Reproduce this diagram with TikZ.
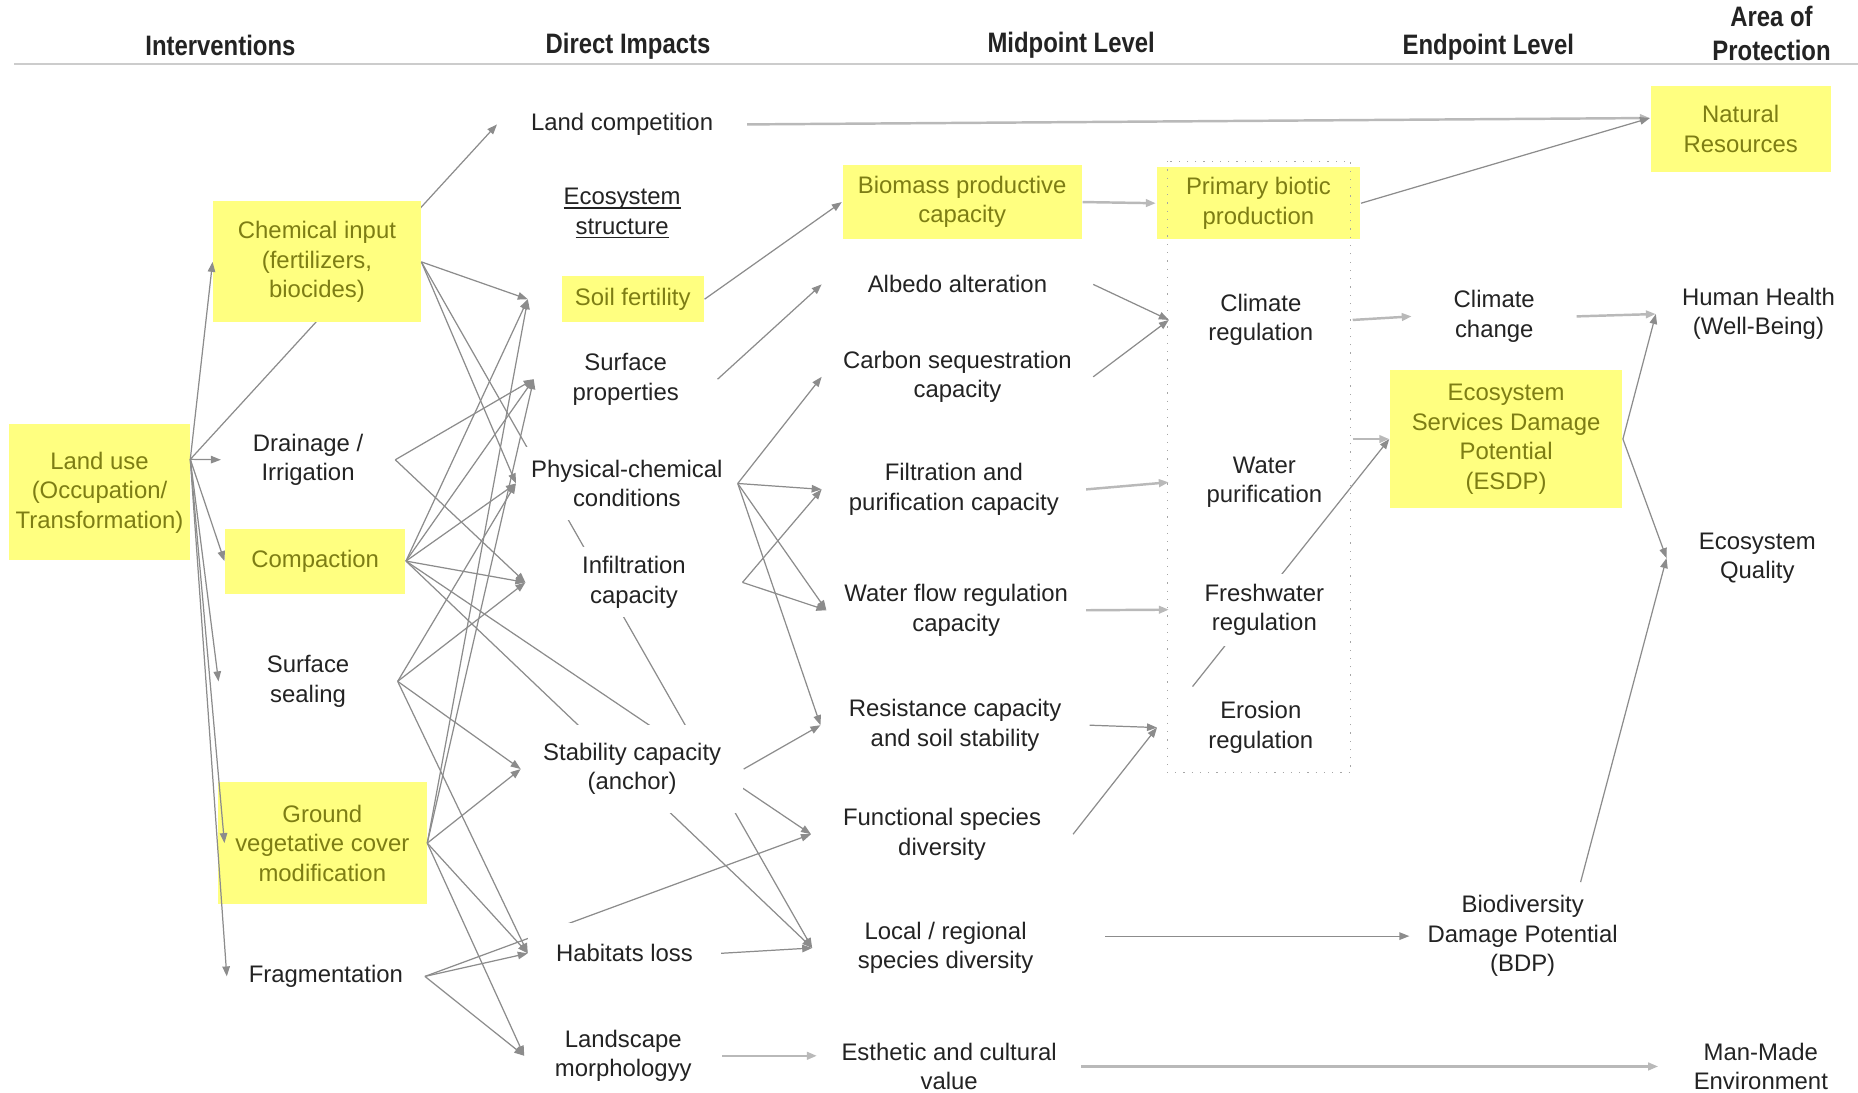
\documentclass[tikz,border=0pt]{standalone}
\usepackage{fontspec}
\setmainfont{Liberation Sans}
\newfontfamily\headfont{Liberation Sans}[FakeStretch=0.85]
\usetikzlibrary{arrows.meta, backgrounds}
\newlength{\px}
\setlength{\px}{0.1185mm}
\definecolor{hlyellow}{RGB}{255,255,128}
\definecolor{hltext}{RGB}{125,125,20}
\definecolor{txt}{RGB}{35,35,35}
\definecolor{wire}{RGB}{140,140,140}
\definecolor{lwire}{RGB}{185,185,185}
\newcommand{\undl}[1]{\leavevmode\setbox0\hbox{#1}\rlap{\rule[-1.2pt]{\wd0}{0.45pt}}\box0}

\begin{document}
\begin{tikzpicture}[x=\px, y=-\px,
  every node/.style={font=\fontsize{6.8}{8.4}\selectfont, align=center, inner sep=0pt, text=txt},
  head/.style={font=\headfont\bfseries\fontsize{8}{9.6}\selectfont},
  ybox/.style={fill=hlyellow, text=hltext},
  wbox/.style={fill=white},
  conn/.style={draw=wire, line width=0.35pt, -{Triangle[length=1mm,width=0.75mm]}},
  lconn/.style={draw=lwire, line width=0.7pt, -{Triangle[length=1mm,width=0.75mm]}},
  dotbox/.style={draw=gray!70, dotted, line width=0.35pt},
  hrule/.style={draw=gray!40, line width=0.8pt}]
\useasboundingbox (0,0) rectangle (1568,922);

% column heads
\node[head] (hdint) at (186,38) {Interventions};
\node[head] (hddir) at (530,39) {Direct Impacts};
\node[head] (hdmid) at (904,38) {Midpoint Level};
\node[head] (hdend) at (1256,40) {Endpoint Level};
\node[head] (hdaop) at (1495,28) {Area of\\Protection};
\draw[hrule] (12,54) -- (1568,54);

% interventions
\node[ybox, minimum width=152\px, minimum height=115\px] (landuse) at (84,415.5) {Land use\\(Occupation/\\Transformation)};
\node[ybox, minimum width=175\px, minimum height=102\px] (chem) at (267.5,221) {Chemical input\\(fertilizers,\\biocides)};
\node[minimum width=146\px, minimum height=30\px] (drain) at (260,388) {Drainage /\\Irrigation};
\node[ybox, minimum width=152\px, minimum height=55\px] (compact) at (266,473.5) {Compaction};
\node[minimum width=150\px] (seal) at (260,575) {Surface\\sealing};
\node[ybox, minimum width=176\px, minimum height=103\px] (veg) at (272,711.5) {Ground\\vegetative cover\\modification};
\node[minimum width=166\px] (frag) at (275,824) {Fragmentation};

% direct impacts
\node[wbox, minimum width=210\px, minimum height=30\px] (landcomp) at (525,105) {Land competition};
\node[wbox, minimum width=200\px, minimum height=70\px] (ecostr) at (525,180) {\undl{Ecosystem}\\\undl{structure}};
\node[ybox, minimum width=120\px, minimum height=39\px] (soil) at (534,252.5) {Soil fertility};
\node[wbox, minimum width=154\px, minimum height=50\px] (surf) at (528,320) {Surface\\properties};
\node[wbox, minimum width=186\px, minimum height=62\px] (phys) at (529,408) {Physical-chemical\\conditions};
\node[wbox, minimum width=182\px, minimum height=59\px] (infil) at (535,491.5) {Infiltration\\capacity};
\node[wbox, minimum width=187\px, minimum height=74\px] (stab) at (533.5,649) {Stability capacity\\(anchor)};
\node[wbox, minimum width=162\px, minimum height=51\px] (habitat) at (527,804.5) {Habitats loss};
\node[wbox, minimum width=166\px, minimum height=55\px] (landsc) at (526,891) {Landscape\\morphologyy};

% midpoint level
\node[ybox, minimum width=202\px, minimum height=63\px] (biomass) at (812,170.5) {Biomass productive\\capacity};
\node[wbox, minimum width=228\px, minimum height=30\px] (albedo) at (808,240) {Albedo alteration};
\node[wbox, minimum width=228\px, minimum height=55\px] (carbon) at (808,318) {Carbon sequestration\\capacity};
\node[wbox, minimum width=222\px, minimum height=55\px] (filter) at (805,413) {Filtration and\\purification capacity};
\node[wbox, minimum width=218\px, minimum height=55\px] (flow) at (807,515) {Water flow regulation\\capacity};
\node[wbox, minimum width=226\px, minimum height=55\px] (resist) at (806,612) {Resistance capacity\\and soil stability};
\node[wbox, minimum width=220\px, minimum height=55\px] (funct) at (795,704) {Functional species\\diversity};
\node[wbox, minimum width=224\px, minimum height=55\px] (localdiv) at (798,800) {Local / regional\\species diversity};
\node[wbox, minimum width=222\px, minimum height=50\px] (esthetic) at (801,900) {Esthetic and cultural\\value};

% ecosystem services
\node[ybox, minimum width=172\px, minimum height=61\px] (primary) at (1062,171.5) {Primary biotic\\production};
\node[wbox, minimum width=154\px, minimum height=60\px] (climreg) at (1064,270) {Climate\\regulation};
\node[minimum width=160\px, minimum height=60\px] (waterpur) at (1067,407) {Water\\purification};
\node[wbox, minimum width=160\px, minimum height=61\px] (fresh) at (1067,514.5) {Freshwater\\regulation};
\node[wbox, minimum width=174\px, minimum height=68\px] (erosion) at (1064,614) {Erosion\\regulation};
\draw[dotbox] (985,136) rectangle (1140,652);

% endpoint level
\node[wbox, minimum width=138\px, minimum height=55\px] (climchg) at (1261,267) {Climate\\change};
\node[ybox, minimum width=196\px, minimum height=117\px] (esdp) at (1271,370.5) {Ecosystem\\Services Damage\\Potential\\(ESDP)};
\node[wbox, minimum width=190\px, minimum height=90\px] (bdp) at (1285,790) {Biodiversity\\Damage Potential\\(BDP)};

% areas of protection
\node[ybox, minimum width=152\px, minimum height=73\px] (natres) at (1469,109) {Natural\\Resources};
\node[wbox, minimum width=172\px, minimum height=55\px] (human) at (1484,265) {Human Health\\(Well-Being)};
\node[wbox, minimum width=152\px, minimum height=55\px] (ecoq) at (1483,471) {Ecosystem\\Quality};
\node[wbox, minimum width=172\px, minimum height=50\px] (manmade) at (1486,900) {Man-Made\\Environment};

% links that run behind the boxes
\begin{pgfonlayer}{background}
\draw[conn] (landuse.20) -- (landcomp.west);
\draw[conn] (chem.east) -- (localdiv.west);
\draw[conn] (compact.east) -- (funct.west);
\draw[conn] (compact.east) -- (localdiv.west);
\draw[conn] (frag.east) -- (funct.west);
\draw[conn] ([xshift=30\px]erosion.north west) -- (esdp.west);
\end{pgfonlayer}

% interventions -> direct impacts
\draw[conn] (landuse.20) -- (chem.west);
\draw[conn] (landuse.20) -- (drain.west);
\draw[conn] (landuse.20) -- (compact.west);
\draw[conn] (landuse.20) -- (seal.west);
\draw[conn] (landuse.20) -- ([xshift=6\px]veg.west);
\draw[conn] (landuse.20) -- (frag.west);
\draw[conn] (chem.east) -- ([xshift=-28\px]soil.west);
\draw[conn] (chem.east) -- (phys.west);
\draw[conn] (drain.east) -- (surf.west);
\draw[conn] (drain.east) -- (infil.west);
\draw[conn] (compact.east) -- ([xshift=-28\px]soil.west);
\draw[conn] (compact.east) -- (surf.west);
\draw[conn] (compact.east) -- (phys.west);
\draw[conn] (compact.east) -- (infil.west);
\draw[conn] (seal.east) -- (phys.west);
\draw[conn] (seal.east) -- (infil.west);
\draw[conn] (seal.east) -- (stab.west);
\draw[conn] (seal.east) -- (habitat.west);
\draw[conn] (veg.east) -- ([xshift=-28\px]soil.west);
\draw[conn] (veg.east) -- (surf.west);
\draw[conn] (veg.east) -- (stab.west);
\draw[conn] (veg.east) -- (habitat.west);
\draw[conn] (veg.east) -- (landsc.west);
\draw[conn] (frag.east) -- (habitat.west);
\draw[conn] (frag.east) -- (landsc.west);

% direct impacts -> midpoints
\draw[lconn] (landcomp.east) -- (natres.173);
\draw[conn] (soil.east) -- (biomass.west);
\draw[conn] (surf.east) -- (albedo.west);
\draw[conn] (phys.east) -- (carbon.west);
\draw[conn] (phys.east) -- (filter.west);
\draw[conn] (phys.east) -- (flow.west);
\draw[conn] (phys.east) -- (resist.west);
\draw[conn] (infil.east) -- (filter.west);
\draw[conn] (infil.east) -- (flow.west);
\draw[conn] (stab.east) -- (resist.west);
\draw[conn] (habitat.east) -- (localdiv.west);
\draw[lconn] (landsc.east) -- (landsc.east -| esthetic.west);

% midpoints -> services
\draw[lconn] (biomass.east) -- (primary.west);
\draw[conn] (albedo.east) -- (climreg.west);
\draw[conn] (carbon.east) -- (climreg.west);
\draw[lconn] (filter.east) -- (waterpur.west);
\draw[lconn] (flow.east) -- (fresh.west);
\draw[conn] (resist.east) -- (erosion.west);
\draw[conn] (funct.east) -- (erosion.west);
\draw[conn] ([xshift=22\px]localdiv.east |- bdp.west) -- (bdp.west);
\draw[lconn] (esthetic.east) -- (esthetic.east -| manmade.west);

% endpoints and areas of protection
\draw[conn] (primary.east) -- (natres.173);
\draw[lconn] (climreg.east) -- (climchg.west);
\draw[lconn] (climreg.east |- esdp.west) -- (esdp.west);
\draw[lconn] (climchg.east) -- (human.west);
\draw[conn] (esdp.east) -- (human.west);
\draw[conn] (esdp.east) -- (ecoq.west);
\draw[conn] (bdp.43) -- (ecoq.west);
\end{tikzpicture}
\end{document}
